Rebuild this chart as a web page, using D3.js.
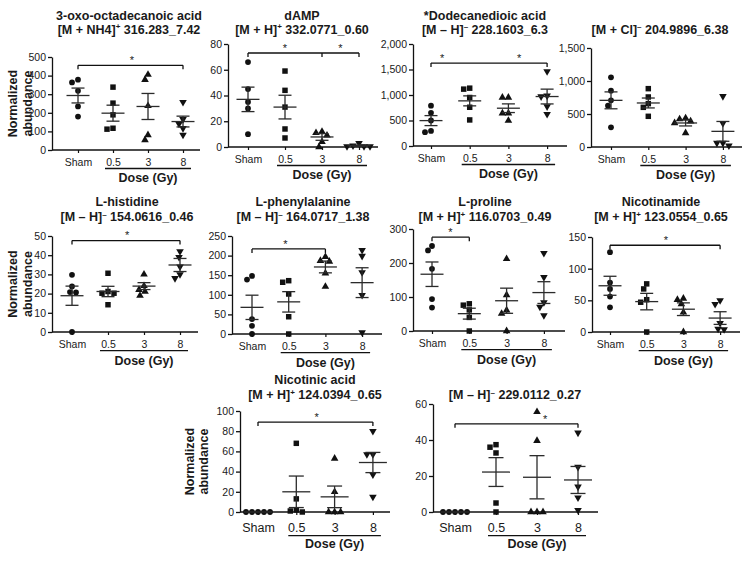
<!DOCTYPE html>
<html><head><meta charset="utf-8">
<script src="https://cdn.jsdelivr.net/npm/d3@7"></script>
<style>
body{margin:0;background:#fff;}
svg text{font-family:"Liberation Sans",Arial,Helvetica,sans-serif;fill:#1a1a1a;}
</style>
</head><body>
<svg id="chart" width="749" height="563"></svg>
<script>
// ---------- DATA ----------
const categories = ["Sham", "0.5", "3", "8"];

const oxoValues = [[378,363,318,234,180],[338,252,189,117,112],[405,378,237,81,54],[257,165,140,117,81]];
const oxoMeans = [293,198,234,153];
const oxoSems = [40,43,70,29];
const oxoTicks = [0,100,200,300,400,500];

const dampValues = [[66,45,35,30,10],[59,44,31,14,7],[12,11,9,4,0],[3,1,0.5,0.5,0.5]];
const dampMeans = [37,31,7.8,1.0];
const dampSems = [9.5,9.2,2.6,0.5];
const dampTicks = [0,20,40,60,80];

const dodecValues = [[790,650,500,295,270],[1134,1115,951,760,511],[951,951,643,643,498],[1462,984,970,774,623]];
const dodecMeans = [498,885,741,970];
const dodecSems = [98,98,85,145];
const dodecTicks = [0,500,1000,1500,2000];

const clValues = [[1056,854,707,626,298],[884,758,657,601,465],[439,424,390,364,212],[768,360,60,60,20]];
const clMeans = [707,667,364,237];
const clSems = [128,75,45,150];
const clTicks = [0,500,1000,1500];

const hisValues = [[29.8,23.7,20.8,20.6,0],[30.6,21.1,20.2,20.2,14.2],[30,24,22,21,19],[42,39,34,30,28]];
const hisMeans = [18.9,21.1,23.9,34.9];
const hisSems = [5,2.7,1.8,3.4];
const hisTicks = [0,10,20,30,40,50];

const pheValues = [[148,139,38,21,0],[136,132,102,44,0],[197,187,185,155,121],[214,199,157,99,4]];
const pheMeans = [68,82,171,131];
const pheSems = [31,26,15,38];
const pheTicks = [0,50,100,150,200,250];

const proValues = [[250,237,183,94,69],[80,76,62,40,0],[212,106,61,51,0],[229,158,84,71,46]];
const proMeans = [167,51,89,113];
const proSems = [36,16,37,32];
const proTicks = [0,100,200,300];

const namValues = [[126,78,68,56,39],[76,68,51,47,0],[53,51,44,31,0],[50,44,14,5,4]];
const namMeans = [73,48,36,22];
const namSems = [15,13,10,10];
const namTicks = [0,50,100,150];

const nicValues = [[0,0,0,0,0],[68,13,2,1,0],[53,20,0,0,0],[80,57,57,37,15]];
const nicMeans = [0,20,15,49];
const nicSems = [0,15.6,10.7,10];
const nicTicks = [0,20,40,60,80,100];

const m229Values = [[0,0,0,0,0],[37.4,36,32.8,5,0],[55.6,39.6,0,0,0],[44,25,14,8,1]];
const m229Means = [0,22.2,19.3,17.8];
const m229Sems = [0,8,12,7.5];
const m229Ticks = [0,20,40,60];

// significance brackets: value level, categories spanned, star positions (category index units)
const oxoSig = {level:455, ticks:[0,3], stars:[1.54]};
const dampSig = {level:73, ticks:[0,2,3], stars:[1.0,2.5]};
const dodecSig = {level:1626, ticks:[0,3], stars:[0.29,2.28]};
const hisSig = {level:47.6, ticks:[0,3], stars:[1.53]};
const pheSig = {level:217, ticks:[0,2], stars:[0.91]};
const proSig = {level:276, ticks:[0,1], stars:[0.49]};
const namSig = {level:137, ticks:[0,3], stars:[1.52]};
const nicSig = {level:89, ticks:[0,3], stars:[1.53]};
const m229Sig = {level:49, ticks:[0,3], stars:[2.2]};

const titles = [
  ["3-oxo-octadecanoic acid","[M + NH4]^+ 316.283_7.42"],
  ["dAMP","[M + H]^+ 332.0771_0.60"],
  ["*Dodecanedioic acid","[M \u2013 H]^\u2013 228.1603_6.3"],
  ["","[M + Cl]^\u2013 204.9896_6.38"],
  ["L-histidine","[M \u2013 H]^\u2013 154.0616_0.46"],
  ["L-phenylalanine","[M \u2013 H]^\u2013 164.0717_1.38"],
  ["L-proline","[M + H]^+ 116.0703_0.49"],
  ["Nicotinamide","[M + H]^+ 123.0554_0.65"],
  ["Nicotinic acid","[M + H]^+ 124.0394_0.65"],
  ["","[M \u2013 H]^\u2013 229.0112_0.27"]
];
const yAxisLabel = ["Normalized","abundance"];
const xAxisLabel = "Dose (Gy)";

// ---------- LAYOUT ----------
const rows = [
  {tickY:16, ulY:18.5, doseY:32, xFont:10.5, titleY:[19.5,33.5], meanHW:11.5, capHW:6.5},
  {tickY:16, ulY:18.7, doseY:33, xFont:10.5, titleY:[206,221], meanHW:11.5, capHW:6.5},
  {tickY:20, ulY:23.7, doseY:36, xFont:12.5, titleY:[384,399], meanHW:14, capHW:7.5}
];
const panels = [
  {t:0, v:oxoValues, m:oxoMeans, s:oxoSems, ticks:oxoTicks, sig:oxoSig, row:0, ax:52, end:200, y0:150, yTop:57, c0:78, step:35, tx:129, ylab:[17,32]},
  {t:1, v:dampValues, m:dampMeans, s:dampSems, ticks:dampTicks, sig:dampSig, row:0, ax:228, end:378, y0:147, yTop:44, c0:248, step:37, tx:302},
  {t:2, v:dodecValues, m:dodecMeans, s:dodecSems, ticks:dodecTicks, sig:dodecSig, row:0, ax:413, end:567, y0:146, yTop:44, c0:431, step:38.7, tx:485, comma:true},
  {t:3, v:clValues, m:clMeans, s:clSems, ticks:clTicks, sig:null, row:0, ax:591, end:742, y0:147, yTop:48, c0:611, step:37.3, tx:660, comma:true},
  {t:4, v:hisValues, m:hisMeans, s:hisSems, ticks:hisTicks, sig:hisSig, row:1, ax:52, end:198, y0:332, yTop:236, c0:72, step:36, tx:127, ylab:[17,32]},
  {t:5, v:pheValues, m:pheMeans, s:pheSems, ticks:pheTicks, sig:pheSig, row:1, ax:232, end:382, y0:334, yTop:236, c0:252, step:36.7, tx:303},
  {t:6, v:proValues, m:proMeans, s:proSems, ticks:proTicks, sig:proSig, row:1, ax:413, end:565, y0:331, yTop:229, c0:432, step:37.3, tx:485},
  {t:7, v:namValues, m:namMeans, s:namSems, ticks:namTicks, sig:namSig, row:1, ax:592, end:740, y0:332, yTop:237, c0:610, step:36.7, tx:661},
  {t:8, v:nicValues, m:nicMeans, s:nicSems, ticks:nicTicks, sig:nicSig, row:2, ax:240, end:390, y0:512, yTop:411, c0:258, step:38.3, tx:315, ylab:[194,208]},
  {t:9, v:m229Values, m:m229Means, s:m229Sems, ticks:m229Ticks, sig:m229Sig, row:2, ax:433, end:598, y0:512, yTop:404, c0:455, step:41, tx:515}
];

const svg = d3.select("#chart");
const LINE = "#2b2b2b";
const symbols = [
  {type:d3.symbolCircle, size:26, rot:0},
  {type:d3.symbolSquare, size:30, rot:0},
  {type:d3.symbolTriangle, size:25, rot:0},
  {type:d3.symbolTriangle, size:25, rot:180}
];

function addRichText(sel, str){
  const parts = str.split(/\^(.)/);
  parts.forEach((p,i)=>{
    if(i%2===1){
      sel.append("tspan").attr("font-size","8px").attr("dy","-4.5").text(p);
    } else if(p.length){
      const ts = sel.append("tspan").text(p);
      if(i>0) ts.attr("dy","4.5");
    }
  });
}

function swarm(vals, yScale, cx, d){
  const order = vals.map((v,i)=>i).sort((a,b)=>vals[b]-vals[a]);
  const placed = [];
  const out = new Array(vals.length);
  order.forEach(i=>{
    const py = yScale(vals[i]);
    let off = 0;
    for(let k=0;k<200;k++){
      const cand = k===0?0:(k%2===1?-Math.ceil(k/2):Math.ceil(k/2));
      const px = cx + cand;
      if(placed.every(p=>Math.hypot(p[0]-px,p[1]-py)>=d)){off=cand;break;}
    }
    placed.push([cx+off,py]);
    out[i]=[cx+off,py];
  });
  return out;
}

panels.forEach(p=>{
  const r = rows[p.row];
  const g = svg.append("g");
  const y = d3.scaleLinear().domain([0, p.ticks[p.ticks.length-1]]).range([p.y0, p.yTop]);
  const x = d3.scaleLinear().domain([0,3]).range([p.c0, p.c0+3*p.step]);

  titles[p.t].forEach((line,i)=>{
    if(!line) return;
    const t = g.append("text").attr("x",p.tx).attr("y",r.titleY[i]).attr("text-anchor","middle")
      .attr("font-weight","bold").attr("font-size","12.5px");
    addRichText(t,line);
  });

  const fmt = p.comma ? d3.format(",") : d3.format("d");
  const yAxis = g.append("g").attr("transform",`translate(${p.ax},0)`)
    .call(d3.axisLeft(y).tickValues(p.ticks).tickSize(4).tickSizeOuter(0).tickPadding(2).tickFormat(fmt));
  yAxis.selectAll("path,line").attr("stroke","#111").attr("stroke-width",1.3);
  yAxis.selectAll("text").attr("font-size","10.5px").attr("font-family",null).attr("fill","#1a1a1a");

  g.append("line").attr("x1",p.ax).attr("x2",p.end).attr("y1",p.y0).attr("y2",p.y0)
    .attr("stroke","#111").attr("stroke-width",1.3);
  const xAxis = g.append("g").attr("transform",`translate(0,${p.y0})`)
    .call(d3.axisBottom(x).tickValues([0,1,2,3]).tickSize(3).tickFormat(i=>categories[i]));
  xAxis.select(".domain").remove();
  xAxis.selectAll("line").attr("stroke","#111").attr("stroke-width",1.2);
  xAxis.selectAll("text").attr("dy",null).attr("y",r.tickY).attr("font-size",r.xFont+"px")
    .attr("font-family",null).attr("fill","#1a1a1a");

  const u1 = x(1)-8, u2 = x(3)+8;
  g.append("line").attr("x1",u1).attr("x2",u2).attr("y1",p.y0+r.ulY).attr("y2",p.y0+r.ulY)
    .attr("stroke","#111").attr("stroke-width",1.3);
  g.append("text").attr("x",(u1+u2)/2).attr("y",p.y0+r.doseY).attr("text-anchor","middle")
    .attr("font-weight","bold").attr("font-size","12.5px").text(xAxisLabel);

  if(p.ylab){
    const cy = (p.y0+p.yTop)/2;
    yAxisLabel.forEach((l,i)=>{
      g.append("text").attr("transform",`translate(${p.ylab[i]},${cy}) rotate(-90)`)
        .attr("text-anchor","middle").attr("font-weight","bold").attr("font-size","12.5px").text(l);
    });
  }

  p.v.forEach((vals,ci)=>{
    const pos = swarm(vals,y,x(ci),5.8);
    const sym = symbols[ci];
    g.selectAll(null).data(pos).enter().append("path")
      .attr("d",d3.symbol().type(sym.type).size(sym.size))
      .attr("transform",d=>`translate(${d[0]},${d[1]}) rotate(${sym.rot})`)
      .attr("fill","#111");
  });

  p.m.forEach((mv,ci)=>{
    const cx = x(ci), sv = p.s[ci];
    const gg = g.append("g").attr("stroke",LINE).attr("stroke-width",1.3).attr("fill","none");
    gg.append("line").attr("x1",cx-r.meanHW).attr("x2",cx+r.meanHW).attr("y1",y(mv)).attr("y2",y(mv));
    if(sv>0){
      gg.append("line").attr("x1",cx).attr("x2",cx).attr("y1",y(mv-sv)).attr("y2",y(mv+sv));
      [mv-sv,mv+sv].forEach(b=>{
        gg.append("line").attr("x1",cx-r.capHW).attr("x2",cx+r.capHW).attr("y1",y(b)).attr("y2",y(b));
      });
    }
  });

  if(p.sig){
    const by = y(p.sig.level);
    const t0 = d3.min(p.sig.ticks), t1 = d3.max(p.sig.ticks);
    g.append("line").attr("x1",x(t0)).attr("x2",x(t1)).attr("y1",by).attr("y2",by)
      .attr("stroke","#111").attr("stroke-width",1.3);
    p.sig.ticks.forEach(tk=>{
      g.append("line").attr("x1",x(tk)).attr("x2",x(tk)).attr("y1",by).attr("y2",by+4)
        .attr("stroke","#111").attr("stroke-width",1.3);
    });
    p.sig.stars.forEach(st=>{
      g.append("text").attr("x",x(st)).attr("y",by-1.2).attr("text-anchor","middle")
        .attr("font-size","11px").attr("fill","#333").text("*");
    });
  }
});
</script>
</body></html>
